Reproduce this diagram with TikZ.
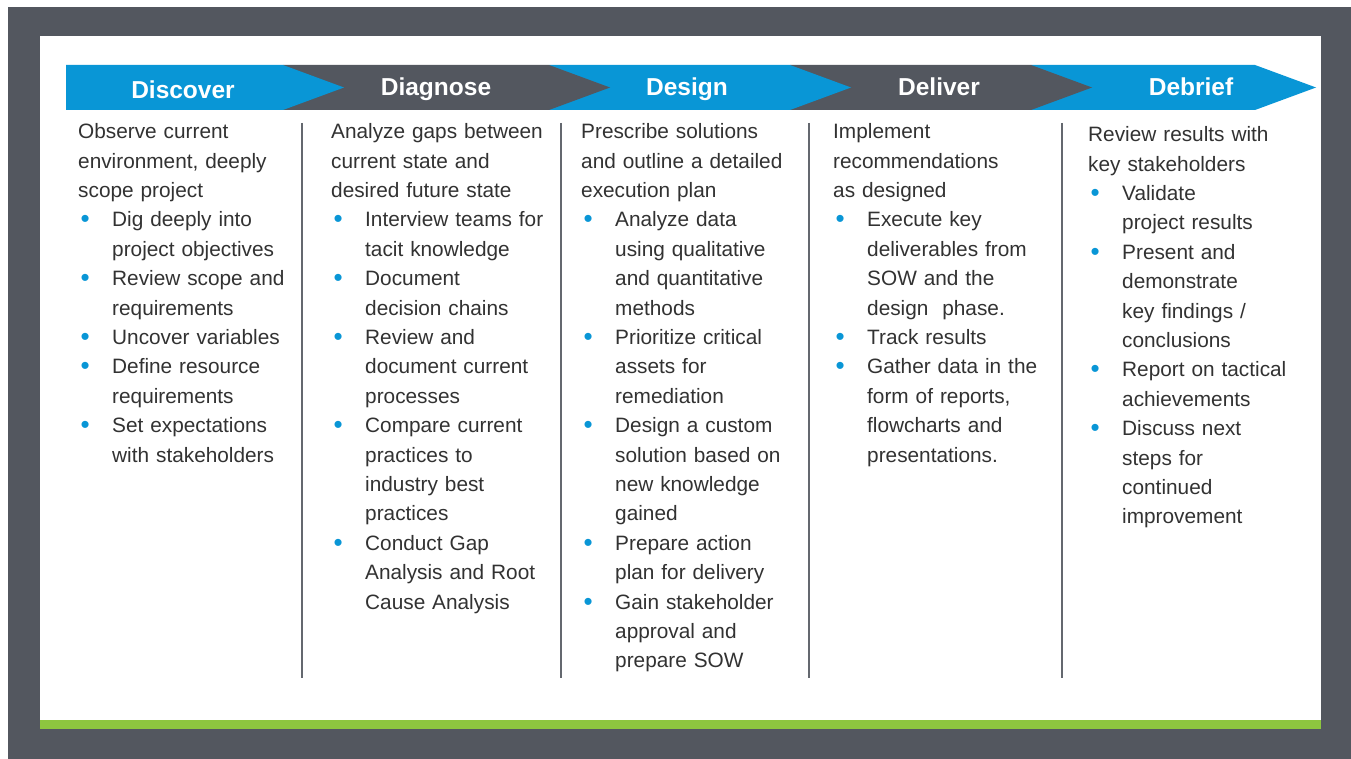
\documentclass[tikz,border=0pt]{standalone}
\usepackage{fontspec}
\setmainfont{Liberation Sans}
\setlength{\parindent}{0pt}

\definecolor{frameGray}{RGB}{83,87,95}
\definecolor{phaseBlue}{RGB}{9,150,214}
\definecolor{barGreen}{RGB}{141,198,63}
\definecolor{bodyText}{RGB}{50,50,50}

% bullet line and its continuation
\newcommand{\itm}[1]{\makebox[34pt][l]{\hspace{2.5pt}\raisebox{-1pt}{\fontsize{26}{26}\selectfont\textcolor{phaseBlue}{\textbullet}}}#1}
\newcommand{\cnt}[1]{\hspace*{34pt}#1}
\newcommand{\chevron}[3]{\fill[#3] (#1,65) -- (#2,65) -- ({#2+61},87.5) -- (#2,110) -- (#1,110) -- cycle;}

\tikzset{
  phase/.style={text=white, anchor=base, inner sep=0pt, font=\fontsize{24.5}{28}\selectfont\bfseries},
  body/.style={anchor=north west, inner sep=0pt, text width=240pt, align=left, text=bodyText, font=\fontsize{20.8}{29.4}\selectfont},
  divider/.style={draw=frameGray!90, line width=1.3pt}
}

\begin{document}
\begin{tikzpicture}[x=1pt, y=-1pt]

  \useasboundingbox (0,0) rectangle (1351,759);

  % frame and panel
  \fill[white] (0,0) rectangle (1351,759);
  \fill[frameGray] (8,7) rectangle (1351,759);
  \fill[white] (40,36) rectangle (1321,720);
  \fill[barGreen] (40,720) rectangle (1321,729);

  % chevron band, right to left
  \chevron{1031}{1255}{phaseBlue}
  \chevron{790}{1031}{frameGray}
  \chevron{549}{790}{phaseBlue}
  \chevron{283}{549}{frameGray}
  \chevron{66}{283}{phaseBlue}

  \node[phase] (discover) at (183,99) {Discover};
  \node[phase] (diagnose) at (436,95.7) {Diagnose};
  \node[phase] (design) at (687,95.7) {Design};
  \node[phase] (deliver) at (939,95.7) {Deliver};
  \node[phase] (debrief) at (1191,95.7) {Debrief};

  % column dividers
  \foreach \x in {302,561,809,1062}
    \draw[divider] (\x,123) -- (\x,678);

  % columns
  \node[body] (discoverText) at (78,122.5) {\rule{0pt}{16pt}Observe current\\
    environment, deeply\\
    scope project\\
    \itm{Dig deeply into}\\
    \cnt{project objectives}\\
    \itm{Review scope and}\\
    \cnt{requirements}\\
    \itm{Uncover variables}\\
    \itm{Define resource}\\
    \cnt{requirements}\\
    \itm{Set expectations}\\
    \cnt{with stakeholders}};

  \node[body] (diagnoseText) at (331,122.5) {\rule{0pt}{16pt}Analyze gaps between\\
    current state and\\
    desired future state\\
    \itm{Interview teams for}\\
    \cnt{tacit knowledge}\\
    \itm{Document}\\
    \cnt{decision chains}\\
    \itm{Review and}\\
    \cnt{document current}\\
    \cnt{processes}\\
    \itm{Compare current}\\
    \cnt{practices to}\\
    \cnt{industry best}\\
    \cnt{practices}\\
    \itm{Conduct Gap}\\
    \cnt{Analysis and Root}\\
    \cnt{Cause Analysis}};

  \node[body] (designText) at (581,122.5) {\rule{0pt}{16pt}Prescribe solutions\\
    and outline a detailed\\
    execution plan\\
    \itm{Analyze data}\\
    \cnt{using qualitative}\\
    \cnt{and quantitative}\\
    \cnt{methods}\\
    \itm{Prioritize critical}\\
    \cnt{assets for}\\
    \cnt{remediation}\\
    \itm{Design a custom}\\
    \cnt{solution based on}\\
    \cnt{new knowledge}\\
    \cnt{gained}\\
    \itm{Prepare action}\\
    \cnt{plan for delivery}\\
    \itm{Gain stakeholder}\\
    \cnt{approval and}\\
    \cnt{prepare SOW}};

  \node[body] (deliverText) at (833,122.5) {\rule{0pt}{16pt}Implement\\
    recommendations\\
    as designed\\
    \itm{Execute key}\\
    \cnt{deliverables from}\\
    \cnt{SOW and the}\\
    \cnt{design\ \ phase.}\\
    \itm{Track results}\\
    \itm{Gather data in the}\\
    \cnt{form of reports,}\\
    \cnt{flowcharts and}\\
    \cnt{presentations.}};

  \node[body] (debriefText) at (1088,125.5) {\rule{0pt}{16pt}Review results with\\
    key stakeholders\\
    \itm{Validate}\\
    \cnt{project results}\\
    \itm{Present and}\\
    \cnt{demonstrate}\\
    \cnt{key findings /}\\
    \cnt{conclusions}\\
    \itm{Report on tactical}\\
    \cnt{achievements}\\
    \itm{Discuss next}\\
    \cnt{steps for}\\
    \cnt{continued}\\
    \cnt{improvement}};

\end{tikzpicture}
\end{document}
